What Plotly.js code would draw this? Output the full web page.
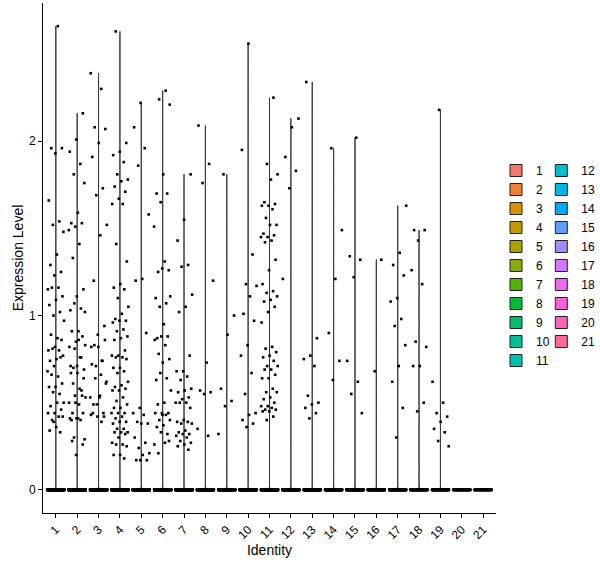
<!DOCTYPE html>
<html><head><meta charset="utf-8">
<script src="https://cdn.plot.ly/plotly-3.0.1.min.js"></script>
<style>body{margin:0;background:#fff}#chart{width:600px;height:568px}</style>
</head><body><div id="chart"></div>
<script>
// ---- data ----
const categories = ['1','2','3','4','5','6','7','8','9','10','11','12','13','14','15','16','17','18','19','20','21'];
const yTicks = [0, 1, 2];

const expr_1 = [2.66,1.96,1.96,1.93,1.66,1.54,1.52,1.48,1.35,1.29,1.25,1.23,1.15,1.16,1.16,1.11,1.09,1.06,1.02,1.00,0.97,0.87,0.89,0.86,0.82,0.80,0.80,0.81,0.77,0.75,0.74,0.76,0.71,0.68,0.65,0.66,0.61,0.59,0.59,0.55,0.56,0.50,0.50,0.48,0.46,0.44,0.44,0.42,0.40,0.42,0.36,0.34,0.33,0.39];
const expr_2 = [2.16,2.01,1.94,1.87,1.81,1.76,1.59,1.53,1.53,1.51,1.49,1.41,1.33,1.15,1.11,1.03,1.04,1.07,1.02,0.91,0.91,0.88,0.85,0.82,0.76,0.70,0.69,0.67,0.67,0.57,0.54,0.53,0.49,0.44,0.44,0.41,0.41,0.40,0.30,0.29,0.41,0.40,0.54,0.50,0.50,0.58,0.61,0.64,0.71,0.71,0.76,0.81,0.83,0.86,0.28,0.26,0.20];
const expr_3 = [2.39,2.30,2.08,2.07,1.99,1.91,1.73,1.69,1.52,1.46,1.20,0.94,0.89,0.82,0.74,0.64,0.61,0.53,0.44,0.44,0.49,0.53,0.66,0.83,0.86,0.82,0.72,0.74,0.71,0.62,0.54,0.49,0.42,0.42,0.43,0.39];
const expr_4 = [2.63,1.99,1.94,1.92,1.88,1.81,1.78,1.77,1.74,1.71,1.67,1.64,1.64,1.41,1.31,1.18,1.16,1.15,1.10,1.05,1.01,0.98,0.97,0.97,0.96,0.92,0.91,0.88,0.87,0.86,0.80,0.77,0.77,0.76,0.76,0.75,0.70,0.70,0.68,0.67,0.62,0.60,0.59,0.58,0.57,0.57,0.53,0.51,0.49,0.47,0.47,0.44,0.44,0.44,0.42,0.41,0.39,0.39,0.38,0.35,0.35,0.33,0.33,0.33,0.32,0.30,0.27,0.26,0.26,0.25,0.20,0.20,0.18];
const expr_5 = [2.22,2.08,1.96,1.86,1.58,1.21,1.20,0.90,0.47,0.44,0.43,0.39,0.38,0.38,0.30,0.27,0.24,0.21,0.20,0.17,0.17,0.17];
const expr_6 = [2.29,2.24,2.21,1.81,1.70,1.70,1.65,1.51,1.31,1.25,1.26,1.27,1.10,1.07,1.05,1.11,0.95,0.87,0.88,0.88,0.86,0.83,0.78,0.75,0.73,0.63,0.64,0.67,0.57,0.50,0.49,0.44,0.44,0.44,0.43,0.40,0.40,0.37,0.36,0.32,0.33,0.26,0.27,0.21,0.28,0.43];
const expr_7 = [1.81,1.55,1.43,1.29,1.28,1.12,1.05,1.02,0.77,0.68,0.68,0.65,0.63,0.58,0.57,0.56,0.53,0.52,0.50,0.50,0.50,0.47,0.40,0.39,0.39,0.38,0.38,0.34,0.33,0.32,0.32,0.31,0.30,0.28,0.27,0.26,0.25,0.23];
const expr_8 = [2.09,1.87,1.76,1.20,0.73,0.57,0.56,0.55,0.35,0.31];
const expr_9 = [1.81,1.00,0.89,0.58,0.51,0.48,0.32];
const expr_10 = [2.56,1.95,1.35,1.18,1.17,1.11,1.01,0.97,0.83,0.77,0.67,0.55,0.44,0.43,0.40,0.38,0.36];
const expr_11 = [2.25,1.87,1.81,1.78,1.65,1.64,1.63,1.63,1.61,1.56,1.52,1.52,1.47,1.46,1.45,1.45,1.43,1.42,1.32,1.26,1.18,1.14,1.13,1.11,1.09,1.08,1.05,1.02,0.96,0.82,0.81,0.79,0.77,0.76,0.74,0.71,0.71,0.69,0.69,0.66,0.64,0.64,0.58,0.56,0.56,0.53,0.52,0.50,0.48,0.48,0.47,0.46,0.46,0.45,0.45,0.42,0.40];
const expr_12 = [2.13,2.08,1.91,1.83,1.73,1.21];
const expr_13 = [2.34,0.87,0.77,0.75,0.71,0.54,0.50,0.49,0.47,0.44,0.41];
const expr_14 = [1.96,1.49,1.21,0.90,0.74,0.63];
const expr_15 = [2.02,1.34,1.32,1.22,0.74,0.62,0.55,0.44];
const expr_16 = [1.32,0.68];
const expr_17 = [1.63,1.36,1.29,1.23,1.10,1.08,0.98,0.94,0.83,0.71,0.62,0.47,0.30];
const expr_18 = [1.49,1.49,1.43,1.26,1.18,0.85,0.82,0.71,0.71,0.50,0.45];
const expr_19 = [2.18,0.62,0.50,0.44,0.42,0.39,0.35,0.33,0.28,0.25];
const expr_20 = [];
const expr_21 = [];
// cells with zero expression in each identity (not readable; estimated)
const zeroCounts = [220,260,240,250,230,240,200,180,170,190,200,160,150,140,140,120,130,110,100,90,80];

const series = [expr_1,expr_2,expr_3,expr_4,expr_5,expr_6,expr_7,expr_8,expr_9,expr_10,expr_11,
                expr_12,expr_13,expr_14,expr_15,expr_16,expr_17,expr_18,expr_19,expr_20,expr_21];

// ggplot2 default hue palette: hcl(h, c=100, l=65)
function hueColor(h) {
  const L = 65, C = 100, rad = h * Math.PI / 180;
  const u = C * Math.cos(rad), v = C * Math.sin(rad);
  const Y = Math.pow((L + 16) / 116, 3);
  const un = 0.1978398, vn = 0.4683363;
  const up = u / (13 * L) + un, vp = v / (13 * L) + vn;
  const X = Y * 9 * up / (4 * vp);
  const Z = Y * (12 - 3 * up - 20 * vp) / (4 * vp);
  const lin = [
    3.240479 * X - 1.537150 * Y - 0.498535 * Z,
    -0.969256 * X + 1.875992 * Y + 0.041556 * Z,
    0.055648 * X - 0.204043 * Y + 1.057311 * Z
  ];
  const c = lin.map(x => {
    const g = x <= 0.0031308 ? 12.92 * x : 1.055 * Math.pow(x, 1 / 2.4) - 0.055;
    return Math.round(Math.max(0, Math.min(1, g)) * 255);
  });
  return 'rgb(' + c.join(',') + ')';
}
const colors = categories.map((c, i) => hueColor(15 + 360 * i / categories.length));

// deterministic horizontal jitter (display only)
function jitter(i, k) {
  const f = ((i + 1) * 0.6180339887498949 + k * 0.2113) % 1;
  return (f - 0.5) * 0.8;
}

const traces = [];
const px = [], py = [];
categories.forEach((cat, k) => {
  const vals = series[k].concat(new Array(zeroCounts[k]).fill(0));
  const t = {
    type: 'violin', name: cat, x0: k + 1, y: vals, orientation: 'v',
    width: 0.9, points: false, spanmode: 'hard', scalemode: 'width',
    fillcolor: colors[k], line: {color: '#222222', width: 1},
    hoverinfo: 'skip', legend: k < 11 ? 'legend' : 'legend2'
  };
  if (series[k].length) t.bandwidth = 0.004;
  traces.push(t);
  vals.forEach((v, i) => { px.push(k + 1 + jitter(i, k)); py.push(v); });
});
traces.push({
  type: 'scatter', mode: 'markers', x: px, y: py, showlegend: false,
  marker: {size: 2.6, color: '#000000', symbol: 'square'}, hoverinfo: 'skip'
});

const font = 'Liberation Sans, Arial, sans-serif';
const layout = {
  width: 600, height: 568,
  margin: {l: 43, r: 104, t: 3, b: 55, autoexpand: false},
  paper_bgcolor: '#ffffff', plot_bgcolor: '#ffffff',
  font: {family: font, size: 12, color: '#000000'},
  violinmode: 'overlay',
  xaxis: {
    range: [0.4, 21.6], tickmode: 'array',
    tickvals: categories.map((c, i) => i + 1), ticktext: categories,
    tickangle: -45, ticks: 'outside', ticklen: 4, tickcolor: '#000',
    showline: true, linecolor: '#000', linewidth: 1,
    showgrid: false, zeroline: false,
    tickfont: {size: 12, color: '#000'},
    title: {text: 'Identity', font: {size: 14, color: '#000'}, standoff: 3}
  },
  yaxis: {
    range: [-0.133, 2.793], tickmode: 'array', tickvals: yTicks,
    ticks: 'outside', ticklen: 4, tickcolor: '#000',
    showline: true, linecolor: '#000', linewidth: 1,
    showgrid: false, zeroline: false,
    tickfont: {size: 12, color: '#000'},
    title: {text: 'Expression Level', font: {size: 14, color: '#000'}, standoff: 2}
  },
  legend: {x: 1.0, xanchor: 'left', y: 0.70, yanchor: 'top', bgcolor: 'rgba(0,0,0,0)',
           font: {size: 12, color: '#000'}, tracegroupgap: 0},
  legend2: {x: 1.1, xanchor: 'left', y: 0.70, yanchor: 'top', bgcolor: 'rgba(0,0,0,0)',
            font: {size: 12, color: '#000'}, tracegroupgap: 0},
  showlegend: true
};

Plotly.newPlot('chart', traces, layout, {displayModeBar: false, staticPlot: true});
</script>
</body></html>
